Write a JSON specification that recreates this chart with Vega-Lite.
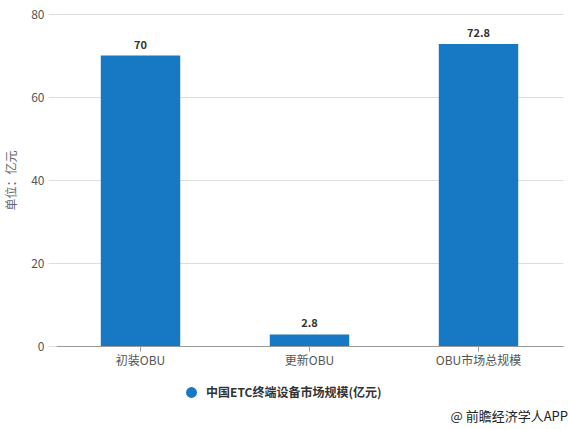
{
  "$schema": "https://vega.github.io/schema/vega-lite/v6.json",
  "width": 507,
  "height": 332,
  "autosize": {"type": "none"},
  "padding": {"left": 56, "top": 14, "right": 6, "bottom": 83},
  "background": "white",
  "config": {
    "font": "Noto Sans CJK SC",
    "view": {"stroke": null}
  },
  "title": {
    "text": "@ 前瞻经济学人APP",
    "orient": "bottom",
    "anchor": "end",
    "offset": 12,
    "dx": 5,
    "fontSize": 13,
    "fontWeight": "normal",
    "color": "#222"
  },
  "data": {
    "values": [
      {"category": "初装OBU", "value": 70, "label": "70", "series": "中国ETC终端设备市场规模(亿元)"},
      {"category": "更新OBU", "value": 2.8, "label": "2.8", "series": "中国ETC终端设备市场规模(亿元)"},
      {"category": "OBU市场总规模", "value": 72.8, "label": "72.8", "series": "中国ETC终端设备市场规模(亿元)"}
    ]
  },
  "encoding": {
    "x": {
      "field": "category",
      "type": "nominal",
      "sort": null,
      "scale": {"paddingInner": 0.53, "paddingOuter": 0.265},
      "axis": {
        "title": null,
        "labelAngle": 0,
        "labelFontSize": 12,
        "labelColor": "#555",
        "labelPadding": 4,
        "domainColor": "#999",
        "tickColor": "#999",
        "tickSize": 5
      }
    },
    "y": {
      "field": "value",
      "type": "quantitative",
      "scale": {"domain": [0, 80]},
      "axis": {
        "title": "单位：亿元",
        "titleFontSize": 12,
        "titleFontWeight": "normal",
        "titleColor": "#666",
        "titlePadding": 12,
        "values": [0, 20, 40, 60, 80],
        "labelFontSize": 12,
        "labelColor": "#555",
        "labelPadding": 4,
        "domain": false,
        "tickColor": "#ddd",
        "tickSize": 8,
        "gridColor": "#ddd"
      }
    }
  },
  "layer": [
    {
      "mark": {"type": "bar", "color": "#1779c4"},
      "encoding": {
        "color": {
          "field": "series",
          "type": "nominal",
          "scale": {"range": ["#1779c4"]},
          "legend": {
            "title": null,
            "orient": "none",
            "legendX": 129,
            "legendY": 372,
            "symbolType": "circle",
            "symbolSize": 120,
            "labelFontSize": 12,
            "labelFontWeight": "bold",
            "labelColor": "#333",
            "labelOffset": 8,
            "labelLimit": 0
          }
        }
      }
    },
    {
      "mark": {"type": "text", "dy": -10, "fontSize": 11, "fontWeight": "bold", "color": "#333"},
      "encoding": {"text": {"field": "label"}}
    }
  ]
}
